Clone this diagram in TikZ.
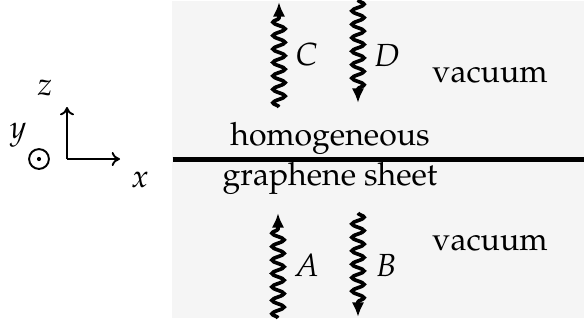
\documentclass[tikz,border=0pt]{standalone}
\usepackage[T1]{fontenc}
\usepackage{mathpazo}
\usetikzlibrary{positioning, decorations.pathmorphing, arrows.meta}

\begin{document}
\begin{tikzpicture}[
    x=3.125pt, y=3.125pt,
    wave/.style={line width=1.15pt, decorate,
                 decoration={snake, amplitude=1.9pt, segment length=4.2pt, post length=4pt},
                 -{Latex[length=4.6pt, width=3.9pt]}},
    lbl/.style={inner sep=0pt, anchor=west},
    txt/.style={inner sep=0pt, anchor=base},
    axis/.style={-{To[length=2.6pt, width=4.4pt]}, line width=0.6pt},
]
\useasboundingbox (0,0) rectangle (58.4,32.7);
\fill[gray!8] (17.2,0.9) rectangle (58.4,32.6);

% graphene sheet
\coordinate (sheetL) at (17.25,16.75);
\coordinate (sheetR) at (58.4,16.75);
\draw[line width=1.6pt] (sheetL) -- (sheetR);
\node[txt] (homo) at (33.0,18.2) {homogeneous};
\node[txt] (graph) at (33.0,14.2) {graphene sheet};
\node[txt] (vacT) at (49.0,24.5) {vacuum};
\node[txt] (vacB) at (49.0,7.7) {vacuum};

% waves above the sheet
\coordinate (cS) at (27.9,22.0);
\coordinate (cE) at (27.9,32.5);
\coordinate (dS) at (35.8,32.7);
\coordinate (dE) at (35.8,22.4);
\draw[wave] (cS) -- (cE);
\draw[wave] (dS) -- (dE);
\node[lbl] (labC) at (29.5,27.2) {$C$};
\node[lbl] (labD) at (37.3,27.2) {$D$};

% waves below the sheet
\coordinate (aS) at (27.8,0.9);
\coordinate (aE) at (27.8,11.4);
\coordinate (bS) at (35.8,11.4);
\coordinate (bE) at (35.8,1.0);
\draw[wave] (aS) -- (aE);
\draw[wave] (bS) -- (bE);
\node[lbl] (labA) at (29.3,6.2) {$A$};
\node[lbl] (labB) at (37.5,6.2) {$B$};

% axes
\coordinate (orig) at (6.7,16.8);
\coordinate (ztip) at (6.7,22.0);
\coordinate (xtip) at (12.0,16.8);
\draw[axis] (orig) -- (ztip);
\draw[axis] (orig) -- (xtip);
\node (zlab) at (4.5,23.9) {$z$};
\node (ylab) at (1.8,19.2) {$y$};
\node (xlab) at (14.0,14.7) {$x$};
\node[draw, circle, line width=0.6pt, minimum size=6.2pt, inner sep=0pt] (ydir) at (3.9,16.8) {};
\fill (ydir.center) circle (0.65pt);
\end{tikzpicture}
\end{document}
